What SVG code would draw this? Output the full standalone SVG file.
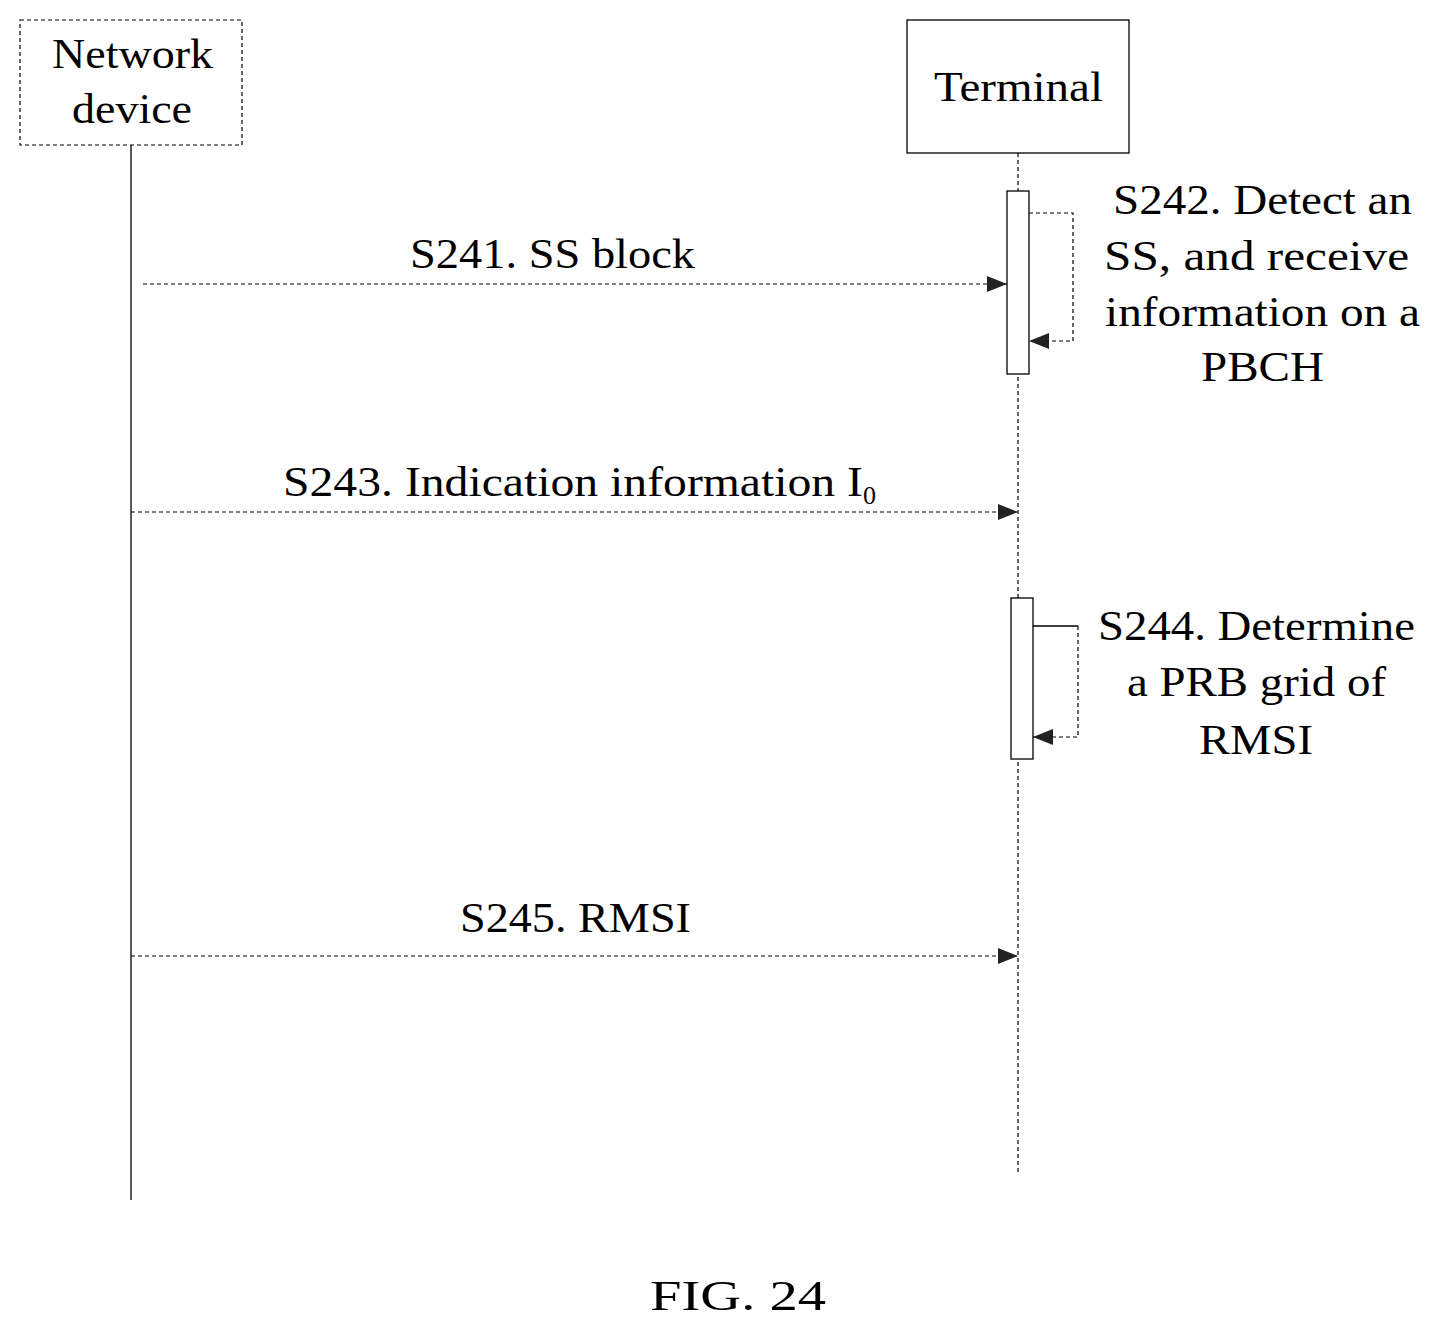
<svg xmlns="http://www.w3.org/2000/svg" width="1441" height="1332" viewBox="0 0 1441 1332">
<style>
text{font-family:"Liberation Serif","Times New Roman",serif;font-size:43px;fill:#000}
.d{stroke:#000;stroke-width:1.2;stroke-dasharray:4,3;fill:none}
.s{stroke:#000;stroke-width:1.3;fill:none}
.b{stroke:#000;stroke-width:1.3;fill:#fff}
</style>
<defs>
<marker id="a" viewBox="0 0 20 16" refX="20" refY="8" markerWidth="20" markerHeight="16" markerUnits="userSpaceOnUse" orient="auto">
<path d="M0,0 L20,8 L0,16 Z" fill="#222"/>
</marker>
</defs>
<rect width="1441" height="1332" fill="#fff"/>
<g id="network">
<rect x="20" y="20" width="222" height="125" class="d"/>
<text x="52" y="68" textLength="161" lengthAdjust="spacingAndGlyphs">Network</text>
<text x="72" y="123" textLength="120" lengthAdjust="spacingAndGlyphs">device</text>
<line x1="131" y1="145" x2="131" y2="1200" class="s"/>
</g>
<g id="terminal">
<rect x="907" y="20" width="222" height="133" class="s"/>
<text x="934" y="101" textLength="169" lengthAdjust="spacingAndGlyphs">Terminal</text>
<line x1="1018" y1="153" x2="1018" y2="1172" class="d"/>
<rect x="1007" y="191" width="22" height="183" class="b"/>
<rect x="1011" y="598" width="22" height="161" class="b"/>
</g>
<g id="connectors">
<line x1="143" y1="284" x2="1007" y2="284" class="d" marker-end="url(#a)"/>
<path d="M1029,213 H1073 V341 H1029" class="d" marker-end="url(#a)"/>
<line x1="131" y1="512" x2="1018" y2="512" class="d" marker-end="url(#a)"/>
<path d="M1033,626 H1078" class="s"/>
<path d="M1078,626 V737 H1033" class="d" marker-end="url(#a)"/>
<line x1="131" y1="956" x2="1018" y2="956" class="d" marker-end="url(#a)"/>
</g>
<g id="labels">
<text x="410" y="268" textLength="285" lengthAdjust="spacingAndGlyphs">S241. SS block</text>
<text x="1113" y="214" textLength="299" lengthAdjust="spacingAndGlyphs">S242. Detect an</text>
<text x="1104" y="270" textLength="305" lengthAdjust="spacingAndGlyphs">SS, and receive</text>
<text x="1105" y="326" textLength="315" lengthAdjust="spacingAndGlyphs">information on a</text>
<text x="1201" y="381" textLength="123" lengthAdjust="spacingAndGlyphs">PBCH</text>
<text x="283" y="496"><tspan textLength="580" lengthAdjust="spacingAndGlyphs">S243. Indication information I</tspan><tspan font-size="26" dy="8">0</tspan></text>
<text x="1098" y="640" textLength="317" lengthAdjust="spacingAndGlyphs">S244. Determine</text>
<text x="1127" y="696" textLength="259" lengthAdjust="spacingAndGlyphs">a PRB grid of</text>
<text x="1199" y="754" textLength="114" lengthAdjust="spacingAndGlyphs">RMSI</text>
<text x="460" y="932" textLength="231" lengthAdjust="spacingAndGlyphs">S245. RMSI</text>
<text x="650" y="1310" font-size="62" textLength="176" lengthAdjust="spacingAndGlyphs">FIG. 24</text>
</g>
</svg>
